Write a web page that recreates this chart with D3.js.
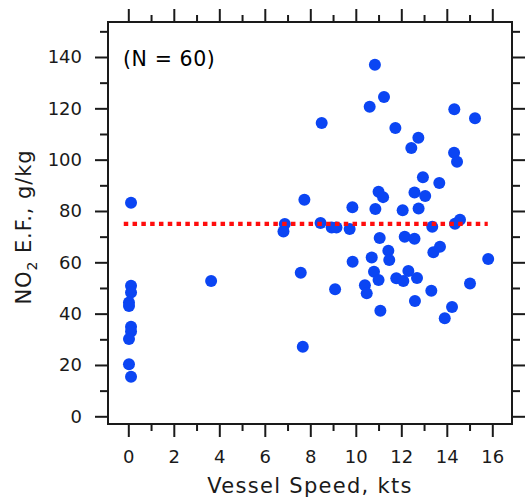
<!DOCTYPE html>
<html><head><meta charset="utf-8">
<script src="https://cdn.jsdelivr.net/npm/d3@7/dist/d3.min.js"></script>
<style>body{margin:0;background:#fff}svg{display:block}</style>
</head><body><svg id="c" width="525" height="500"></svg>
<script>
// Vessel speed (kts)
const speed = [
  0.12, 0.12, 0.12, 0.03, 0.03, 0.12, 0.12, 0.03, 0.03, 0.12,
  3.64,
  10.84, 11.24, 10.61, 8.5, 11.74, 12.75, 12.44, 14.33, 15.24, 14.32,
  14.45, 12.95, 13.67, 11.0, 11.2, 12.58, 13.05, 7.74, 9.85, 10.86,
  12.06, 12.76, 6.88, 6.82, 8.45, 8.94, 9.15, 9.73, 13.36, 14.36,
  14.58, 11.05, 12.15, 12.58, 11.43, 11.47, 10.7, 9.86, 13.41, 13.7,
  15.82, 7.58, 9.09, 10.8, 11.0, 10.4, 10.48, 11.08, 11.78, 12.09,
  12.31, 12.69, 12.6, 13.32, 15.02, 14.23, 13.91, 7.67
];
// NO2 emission factor (g/kg)
const ef = [
  83.2, 50.9, 48.2, 44.3, 43.0, 34.9, 33.0, 30.1, 20.3, 15.4,
  52.7,
  137.0, 124.4, 120.6, 114.3, 112.3, 108.5, 104.5, 119.6, 116.1, 102.7,
  99.2, 93.1, 90.9, 87.5, 85.4, 87.2, 85.8, 84.4, 81.5, 80.8,
  80.3, 81.0, 74.9, 72.0, 75.3, 73.6, 73.6, 73.0, 73.9, 75.0,
  76.6, 69.5, 70.0, 69.2, 64.5, 60.9, 61.9, 60.2, 63.9, 66.1,
  61.3, 55.9, 49.5, 56.3, 53.1, 51.1, 47.9, 41.1, 53.8, 52.7,
  56.6, 53.9, 44.9, 48.9, 51.7, 42.6, 38.2, 27.1
];
const xMajorTicks = [0, 2, 4, 6, 8, 10, 12, 14, 16];
const xMinorTicks = [1, 3, 5, 7, 9, 11, 13, 15];
const yMajorTicks = [0, 20, 40, 60, 80, 100, 120, 140];
const yMinorTicks = [10, 30, 50, 70, 90, 110, 130, 150];
const meanEF = 75;
const meanSpan = [-0.2, 15.8];
const annotation = "(N = 60)";
const xTitle = "Vessel Speed, kts";

const box = {left: 108, right: 512, top: 22, bottom: 424};
const x = d3.scaleLinear().domain([0, 16]).range([128.3, 492.3]);
const y = d3.scaleLinear().domain([0, 140]).range([416.3, 57]);

const svg = d3.select("#c");
const font = "DejaVu Sans, Verdana, sans-serif";
const ink = "#1a1a1a";

function styleAxis(g, showText) {
  g.select(".domain").remove();
  g.selectAll(".tick line").attr("stroke", ink).attr("stroke-width", 2);
  if (!showText) g.selectAll(".tick text").remove();
  else g.selectAll(".tick text").attr("fill", ink).style("font-family", font).style("font-size", "18px");
}

// bottom
svg.append("g").attr("transform", `translate(0,${box.bottom})`)
  .call(d3.axisBottom(x).tickValues(xMajorTicks).tickSize(13).tickPadding(13).tickFormat(d3.format("d")))
  .call(g => styleAxis(g, true));
svg.append("g").attr("transform", `translate(0,${box.bottom})`)
  .call(d3.axisBottom(x).tickValues(xMinorTicks).tickSize(7))
  .call(g => styleAxis(g, false));
// top
svg.append("g").attr("transform", `translate(0,${box.top})`)
  .call(d3.axisTop(x).tickValues(xMajorTicks).tickSize(13))
  .call(g => styleAxis(g, false));
svg.append("g").attr("transform", `translate(0,${box.top})`)
  .call(d3.axisTop(x).tickValues(xMinorTicks).tickSize(7))
  .call(g => styleAxis(g, false));
// left
svg.append("g").attr("transform", `translate(${box.left},0)`)
  .call(d3.axisLeft(y).tickValues(yMajorTicks).tickSize(13).tickPadding(13).tickFormat(d3.format("d")))
  .call(g => styleAxis(g, true));
svg.append("g").attr("transform", `translate(${box.left},0)`)
  .call(d3.axisLeft(y).tickValues(yMinorTicks).tickSize(8))
  .call(g => styleAxis(g, false));
// right
svg.append("g").attr("transform", `translate(${box.right},0)`)
  .call(d3.axisRight(y).tickValues(yMajorTicks).tickSize(13))
  .call(g => styleAxis(g, false));
svg.append("g").attr("transform", `translate(${box.right},0)`)
  .call(d3.axisRight(y).tickValues(yMinorTicks).tickSize(8))
  .call(g => styleAxis(g, false));

// frame
svg.append("rect").attr("x", box.left).attr("y", box.top)
  .attr("width", box.right - box.left).attr("height", box.bottom - box.top)
  .attr("fill", "none").attr("stroke", ink).attr("stroke-width", 2);

// points
svg.append("g").selectAll("circle").data(speed).join("circle")
  .attr("cx", d => x(d)).attr("cy", (d, i) => y(ef[i]))
  .attr("r", 6).attr("fill", "#0b45f3");

// mean line
svg.append("line")
  .attr("x1", x(meanSpan[0])).attr("x2", x(meanSpan[1]))
  .attr("y1", y(meanEF)).attr("y2", y(meanEF))
  .attr("stroke", "#ff0d0d").attr("stroke-width", 4.2)
  .attr("stroke-dasharray", "4.5,4.3");

// annotation
svg.append("text").attr("x", 123).attr("y", 66)
  .style("font-family", font).style("font-size", "20.5px").style("letter-spacing", "0.6px")
  .attr("fill", "#000").text(annotation);

// x title
svg.append("text").attr("x", (box.left + box.right) / 2).attr("y", 493)
  .attr("text-anchor", "middle")
  .style("font-family", font).style("font-size", "21px").style("letter-spacing", "1.3px")
  .attr("fill", ink).text(xTitle);

// y title
const yt = svg.append("text")
  .attr("transform", `translate(31,${(box.top + box.bottom) / 2 + 4}) rotate(-90)`)
  .attr("text-anchor", "middle")
  .style("font-family", font).style("font-size", "21px").style("letter-spacing", "0.9px")
  .attr("fill", ink);
yt.append("tspan").text("NO");
yt.append("tspan").attr("dy", 6).style("font-size", "14px").text("2");
yt.append("tspan").attr("dy", -6).text(" E.F., g/kg");
</script></body></html>
